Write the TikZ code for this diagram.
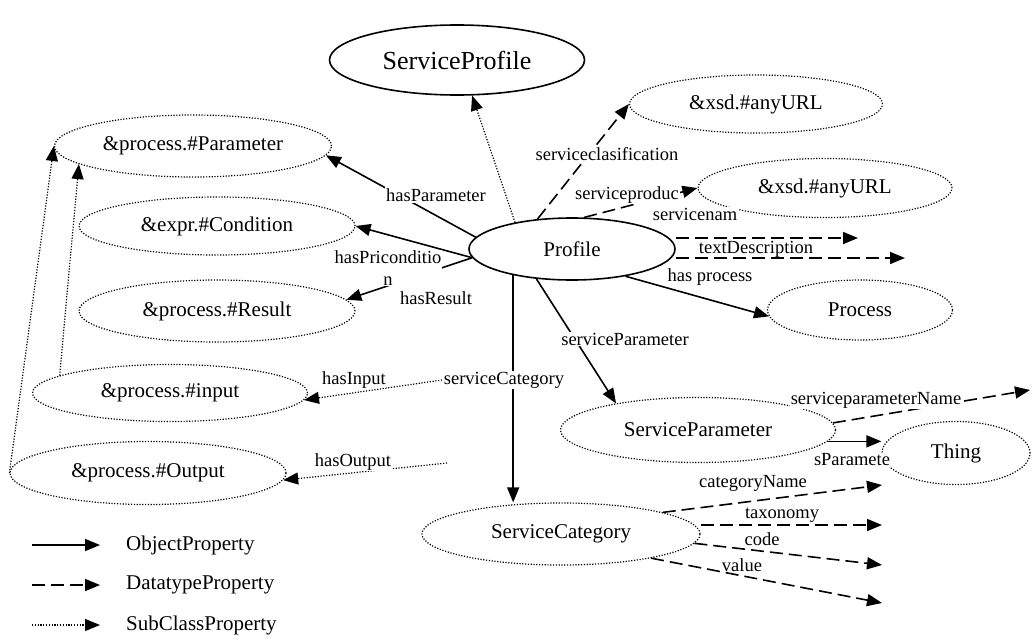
\documentclass[tikz,border=0pt]{standalone}
\usepackage{fontspec}
\setmainfont{Liberation Serif}
\usepackage{tikz}
\usetikzlibrary{arrows.meta,shapes.geometric}

\begin{document}
\begin{tikzpicture}[x=1pt,y=-1pt,
  cls/.style={ellipse,draw,line width=1.2pt,dash pattern=on 1.2pt off 1.6pt,
    inner sep=0pt,font=\fontsize{21}{24}\selectfont},
  solidcls/.style={ellipse,draw,line width=1.6pt,inner sep=0pt,
    font=\fontsize{21}{24}\selectfont},
  objarr/.style={-{Triangle[length=15pt,width=12pt]},line width=1.6pt},
  dtarr/.style={objarr,dash pattern=on 13pt off 6pt},
  subarr/.style={objarr,line width=1.2pt,dash pattern=on 1.2pt off 1.6pt},
  lbl/.style={font=\fontsize{18.5}{22}\selectfont,inner sep=1pt},
  lblw/.style={lbl,fill=white}
]
\useasboundingbox (0,0) rectangle (1032,640);

% classes
\node[solidcls,minimum width=255,minimum height=70,
  font=\fontsize{26}{30}\selectfont] (sprof) at (457,60) {ServiceProfile};
\node[solidcls,minimum width=206,minimum height=62] (prof) at (572,249) {Profile};
\node[cls,minimum width=277,minimum height=62] (par) at (193,146) {\&process.\#Parameter};
\node[cls,minimum width=276,minimum height=58] (cond) at (217,226) {\&expr.\#Condition};
\node[cls,minimum width=276,minimum height=62] (res) at (217,311) {\&process.\#Result};
\node[cls,minimum width=275,minimum height=57] (inp) at (170,393) {\&process.\#input};
\node[cls,minimum width=276,minimum height=63] (outp) at (148,473) {\&process.\#Output};
\node[cls,minimum width=253,minimum height=58] (urlA) at (756,104) {\&xsd.\#anyURL};
\node[cls,minimum width=254,minimum height=59] (urlB) at (825,188) {\&xsd.\#anyURL};
\node[cls,minimum width=185,minimum height=60] (proc) at (860,310) {Process};
\node[cls,minimum width=275,minimum height=65] (spar) at (698,430) {ServiceParameter};
\node[cls,minimum width=148,minimum height=63] (thing) at (956,453) {Thing};
\node[cls,minimum width=278,minimum height=62] (scat) at (561,534) {ServiceCategory};

% free ends
\coordinate (tdA) at (858,238);
\coordinate (tdB) at (905,258);
\coordinate (spnE) at (1030,390);
\coordinate (cnA) at (882,485);
\coordinate (cnB) at (882,525);
\coordinate (cnC) at (882,565);
\coordinate (cnD) at (882,603);
\coordinate (inA) at (442,380);
\coordinate (outA) at (447,463);

% object properties
\draw[objarr] (prof.173) -- (par.-4.5);
\draw[objarr] (prof.185) -- (cond.east);
\draw[objarr] (prof.185) -- (res.5);
\draw[objarr] (prof.-27) -- (proc.184);
\draw[objarr] (prof.220) -- (spar.162);
\draw[objarr] (prof.204) -- (prof.204 |- scat.north);
\draw[objarr] (spar.-5) -- (spar.-5 -| thing.west);

% datatype properties
\draw[dtarr] (prof.139) -- (urlA.west);
\draw[dtarr] (prof.69) -- (urlB.west);
\draw[dtarr] (prof.east |- tdA) -- (tdA);
\draw[dtarr] (prof.east |- tdB) -- (tdB);
\draw[dtarr] (spar.3) -- (spnE);
\draw[dtarr] (scat.12) -- (cnA);
\draw[dtarr] (scat.east |- cnB) -- (cnB);
\draw[dtarr] (scat.-4) -- (cnC);
\draw[dtarr] (scat.-15) -- (cnD);

% subclass
\draw[subarr] (prof.155) -- (sprof.-67);
\draw[subarr] (outp.west) -- (par.west);
\draw[subarr] (inp.171) -- (par.189);
\draw[subarr] (inA) -- (inp.-3);
\draw[subarr] (outA) -- (outp.-3);

% labels
\node[lblw] (lPar) at (436,195) {hasParameter};
\node[lblw,align=center] (lPre) at (388,268) {hasPriconditio\\n};
\node[lbl] (lRes) at (436,298) {hasResult};
\node[lbl] (lIn) at (354,380) {hasInput};
\node[lblw,inner sep=0.5pt] (lOut) at (353,462) {hasOutput};
\node[lblw] (lCat) at (504,380) {serviceCategory};
\node[lblw] (lSPar) at (625,339) {serviceParameter};
\node[lblw] (lProc) at (710,277) {has process};
\node[lblw] (lClas) at (607,154) {serviceclasification};
\node[lblw] (lProd) at (627,195) {serviceproduc};
\node[lblw] (lName) at (695,214) {servicenam};
\node[lbl] (lText) at (756,249) {textDescription};
\node[lblw] (lSPN) at (876,400) {serviceparameterName};
\node[lblw] (lSPt) at (852,460) {sParamete};
\node[lbl] (lCatN) at (753,483) {categoryName};
\node[lbl] (lTax) at (782,515) {taxonomy};
\node[lbl] (lCode) at (762,539) {code};
\node[lbl] (lVal) at (742,565) {value};

% legend
\coordinate (lgA) at (32,545);
\coordinate (lgB) at (32,585);
\coordinate (lgC) at (32,625);
\draw[objarr] (lgA) -- ++(68,0);
\draw[dtarr] (lgB) -- ++(68,0);
\draw[subarr] (lgC) -- ++(68,0);
\node[lbl,anchor=west,font=\fontsize{21}{24}\selectfont] (lgAt) at (125,545) {ObjectProperty};
\node[lbl,anchor=west,font=\fontsize{21}{24}\selectfont] (lgBt) at (125,585) {DatatypeProperty};
\node[lbl,anchor=west,font=\fontsize{21}{24}\selectfont] (lgCt) at (125,625) {SubClassProperty};
\end{tikzpicture}
\end{document}
